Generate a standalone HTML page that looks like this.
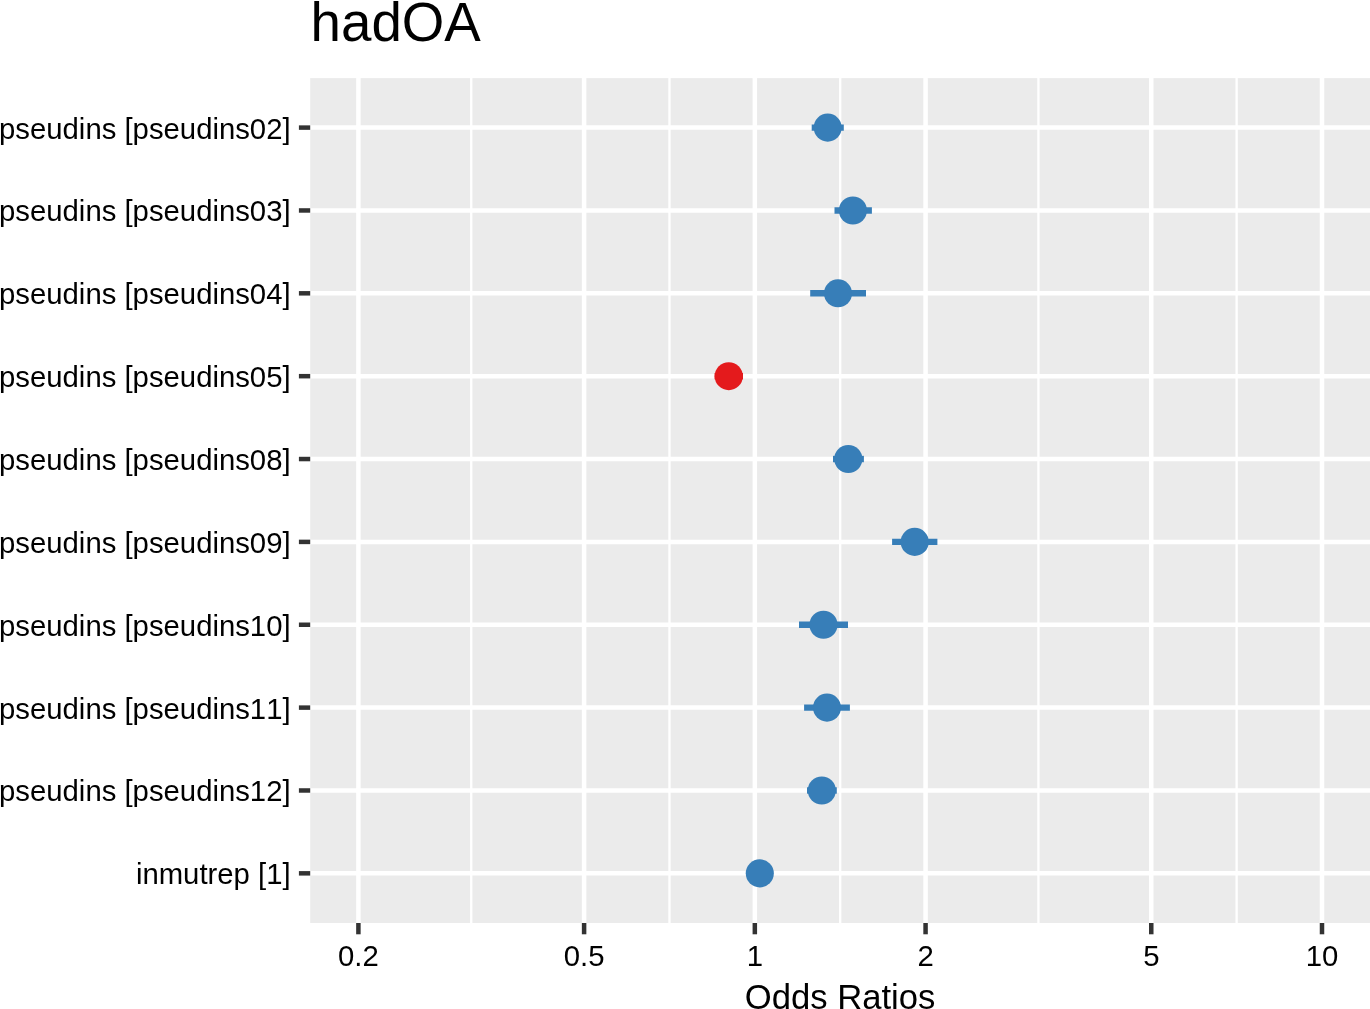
<!DOCTYPE html>
<html><head><meta charset="utf-8"><style>
html,body{margin:0;padding:0;background:#fff;overflow:hidden}
svg{display:block;will-change:transform}
text{font-family:"Liberation Sans",sans-serif;fill:#000;font-kerning:none}
</style></head><body>
<svg width="1370" height="1009" viewBox="0 0 1370 1009">
<rect x="310.2" y="78.1" width="1059.8" height="844.9" fill="#EBEBEB"/>
<line x1="471.25" y1="78.1" x2="471.25" y2="923.0" stroke="#fff" stroke-width="2.35"/>
<line x1="669.47" y1="78.1" x2="669.47" y2="923.0" stroke="#fff" stroke-width="2.35"/>
<line x1="840.20" y1="78.1" x2="840.20" y2="923.0" stroke="#fff" stroke-width="2.35"/>
<line x1="1038.42" y1="78.1" x2="1038.42" y2="923.0" stroke="#fff" stroke-width="2.35"/>
<line x1="1236.64" y1="78.1" x2="1236.64" y2="923.0" stroke="#fff" stroke-width="2.35"/>
<line x1="310.2" y1="127.60" x2="1370" y2="127.60" stroke="#fff" stroke-width="4.5"/>
<line x1="310.2" y1="210.46" x2="1370" y2="210.46" stroke="#fff" stroke-width="4.5"/>
<line x1="310.2" y1="293.32" x2="1370" y2="293.32" stroke="#fff" stroke-width="4.5"/>
<line x1="310.2" y1="376.18" x2="1370" y2="376.18" stroke="#fff" stroke-width="4.5"/>
<line x1="310.2" y1="459.04" x2="1370" y2="459.04" stroke="#fff" stroke-width="4.5"/>
<line x1="310.2" y1="541.90" x2="1370" y2="541.90" stroke="#fff" stroke-width="4.5"/>
<line x1="310.2" y1="624.76" x2="1370" y2="624.76" stroke="#fff" stroke-width="4.5"/>
<line x1="310.2" y1="707.62" x2="1370" y2="707.62" stroke="#fff" stroke-width="4.5"/>
<line x1="310.2" y1="790.48" x2="1370" y2="790.48" stroke="#fff" stroke-width="4.5"/>
<line x1="310.2" y1="873.34" x2="1370" y2="873.34" stroke="#fff" stroke-width="4.5"/>
<line x1="358.40" y1="78.1" x2="358.40" y2="923.0" stroke="#fff" stroke-width="4.5"/>
<line x1="584.10" y1="78.1" x2="584.10" y2="923.0" stroke="#fff" stroke-width="4.5"/>
<line x1="754.83" y1="78.1" x2="754.83" y2="923.0" stroke="#fff" stroke-width="4.5"/>
<line x1="925.57" y1="78.1" x2="925.57" y2="923.0" stroke="#fff" stroke-width="4.5"/>
<line x1="1151.27" y1="78.1" x2="1151.27" y2="923.0" stroke="#fff" stroke-width="4.5"/>
<line x1="1322.00" y1="78.1" x2="1322.00" y2="923.0" stroke="#fff" stroke-width="4.5"/>
<line x1="811.7" y1="127.60" x2="843.8" y2="127.60" stroke="#377EB8" stroke-width="6.4"/>
<circle cx="827.7" cy="127.60" r="14.05" fill="#377EB8"/>
<line x1="834.5" y1="210.46" x2="871.9" y2="210.46" stroke="#377EB8" stroke-width="6.4"/>
<circle cx="852.9" cy="210.46" r="14.05" fill="#377EB8"/>
<line x1="810.2" y1="293.32" x2="866.0" y2="293.32" stroke="#377EB8" stroke-width="6.4"/>
<circle cx="838.0" cy="293.32" r="14.05" fill="#377EB8"/>
<line x1="714.6" y1="376.18" x2="743.0" y2="376.18" stroke="#E41A1C" stroke-width="6.4"/>
<circle cx="728.75" cy="376.18" r="14.05" fill="#E41A1C"/>
<line x1="833.0" y1="459.04" x2="863.9" y2="459.04" stroke="#377EB8" stroke-width="6.4"/>
<circle cx="848.3" cy="459.04" r="14.05" fill="#377EB8"/>
<line x1="892.1" y1="541.90" x2="937.4" y2="541.90" stroke="#377EB8" stroke-width="6.4"/>
<circle cx="914.7" cy="541.90" r="14.05" fill="#377EB8"/>
<line x1="799.0" y1="624.76" x2="848.0" y2="624.76" stroke="#377EB8" stroke-width="6.4"/>
<circle cx="823.5" cy="624.76" r="14.05" fill="#377EB8"/>
<line x1="804.1" y1="707.62" x2="849.9" y2="707.62" stroke="#377EB8" stroke-width="6.4"/>
<circle cx="827.0" cy="707.62" r="14.05" fill="#377EB8"/>
<line x1="807.0" y1="790.48" x2="836.8" y2="790.48" stroke="#377EB8" stroke-width="6.4"/>
<circle cx="821.8" cy="790.48" r="14.05" fill="#377EB8"/>
<circle cx="759.8" cy="873.34" r="14.05" fill="#377EB8"/>
<line x1="298.9" y1="127.60" x2="310.2" y2="127.60" stroke="#333333" stroke-width="4.5"/>
<line x1="298.9" y1="210.46" x2="310.2" y2="210.46" stroke="#333333" stroke-width="4.5"/>
<line x1="298.9" y1="293.32" x2="310.2" y2="293.32" stroke="#333333" stroke-width="4.5"/>
<line x1="298.9" y1="376.18" x2="310.2" y2="376.18" stroke="#333333" stroke-width="4.5"/>
<line x1="298.9" y1="459.04" x2="310.2" y2="459.04" stroke="#333333" stroke-width="4.5"/>
<line x1="298.9" y1="541.90" x2="310.2" y2="541.90" stroke="#333333" stroke-width="4.5"/>
<line x1="298.9" y1="624.76" x2="310.2" y2="624.76" stroke="#333333" stroke-width="4.5"/>
<line x1="298.9" y1="707.62" x2="310.2" y2="707.62" stroke="#333333" stroke-width="4.5"/>
<line x1="298.9" y1="790.48" x2="310.2" y2="790.48" stroke="#333333" stroke-width="4.5"/>
<line x1="298.9" y1="873.34" x2="310.2" y2="873.34" stroke="#333333" stroke-width="4.5"/>
<line x1="358.40" y1="923.0" x2="358.40" y2="934.3" stroke="#333333" stroke-width="4.5"/>
<line x1="584.10" y1="923.0" x2="584.10" y2="934.3" stroke="#333333" stroke-width="4.5"/>
<line x1="754.83" y1="923.0" x2="754.83" y2="934.3" stroke="#333333" stroke-width="4.5"/>
<line x1="925.57" y1="923.0" x2="925.57" y2="934.3" stroke="#333333" stroke-width="4.5"/>
<line x1="1151.27" y1="923.0" x2="1151.27" y2="934.3" stroke="#333333" stroke-width="4.5"/>
<line x1="1322.00" y1="923.0" x2="1322.00" y2="934.3" stroke="#333333" stroke-width="4.5"/>
<text x="290.6" y="138.60" text-anchor="end" font-size="29.3">pseudins [pseudins02]</text>
<text x="290.6" y="221.46" text-anchor="end" font-size="29.3">pseudins [pseudins03]</text>
<text x="290.6" y="304.32" text-anchor="end" font-size="29.3">pseudins [pseudins04]</text>
<text x="290.6" y="387.18" text-anchor="end" font-size="29.3">pseudins [pseudins05]</text>
<text x="290.6" y="470.04" text-anchor="end" font-size="29.3">pseudins [pseudins08]</text>
<text x="290.6" y="552.90" text-anchor="end" font-size="29.3">pseudins [pseudins09]</text>
<text x="290.6" y="635.76" text-anchor="end" font-size="29.3">pseudins [pseudins10]</text>
<text x="290.6" y="718.62" text-anchor="end" font-size="29.3">pseudins [pseudins11]</text>
<text x="290.6" y="801.48" text-anchor="end" font-size="29.3">pseudins [pseudins12]</text>
<text x="290.6" y="884.34" text-anchor="end" font-size="29.3">inmutrep [1]</text>
<text transform="translate(358.40 965.7) scale(1 1.03)" text-anchor="middle" font-size="29.3">0.2</text>
<text transform="translate(584.10 965.7) scale(1 1.03)" text-anchor="middle" font-size="29.3">0.5</text>
<text transform="translate(754.83 965.7) scale(1 1.03)" text-anchor="middle" font-size="29.3">1</text>
<text transform="translate(925.57 965.7) scale(1 1.03)" text-anchor="middle" font-size="29.3">2</text>
<text transform="translate(1151.27 965.7) scale(1 1.03)" text-anchor="middle" font-size="29.3">5</text>
<text transform="translate(1322.00 965.7) scale(1 1.03)" text-anchor="middle" font-size="29.3">10</text>
<text x="840.1" y="1009.0" text-anchor="middle" font-size="34.65">Odds Ratios</text>
<text transform="translate(310.6 41.2) scale(1 1.02)" font-size="54.7">hadOA</text>
</svg>
</body></html>
